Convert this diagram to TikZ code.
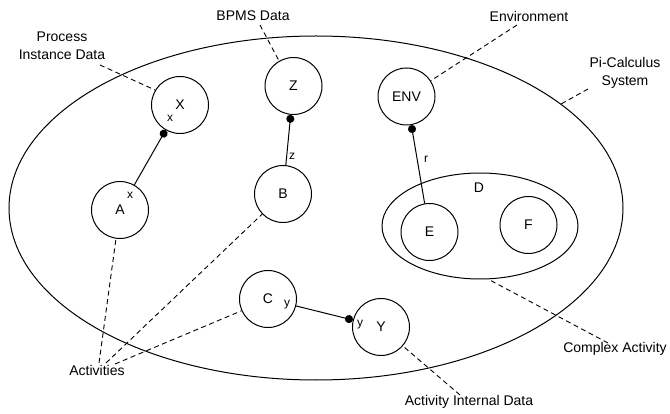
\documentclass[tikz,border=0pt]{standalone}
\usepackage{fontspec}
\setmainfont{Liberation Sans}
\usetikzlibrary{shapes.geometric,arrows.meta}
\begin{document}
\begin{tikzpicture}[x=1pt,y=-1pt,
  every node/.style={font=\fontsize{14}{18}\selectfont},
  proc/.style={draw, circle, line width=1pt, minimum size=57pt, inner sep=0pt},
  region/.style={draw, ellipse, line width=1pt, inner sep=0pt},
  small/.style={font=\fontsize{12}{14}\selectfont, inner sep=0pt},
  note/.style={inner sep=1pt, align=center},
  link/.style={line width=1pt, -{Circle[length=8pt,width=8pt]}},
  hint/.style={line width=0.9pt, dash pattern=on 5pt off 3.5pt},
]
\useasboundingbox (0,0) rectangle (670,414);

% system boundary and the complex activity D
\node[region, minimum width=614pt, minimum height=344pt] (sys) at (316,208) {};
\node[region, minimum width=196pt, minimum height=106pt] (D) at (480,226) {};
\node (Dl) at (479,188) {D};

% processes
\node[proc] (X) at (180,105) {X};
\node[proc] (Z) at (293.5,86) {Z};
\node[proc] (ENV) at (406.5,96.5) {ENV};
\node[proc] (A) at (120,210) {A};
\node[proc] (B) at (283,194) {B};
\node[proc] (E) at (429.5,232) {E};
\node[proc] (F) at (528.5,225) {F};
\node[proc] (C) at (268,299) {C};
\node[proc] (Y) at (381,327) {Y};

% channel names
\node[small] (xX) at (170,118) {x};
\node[small] (xA) at (130,195) {x};
\node[small] (zl) at (292,156) {z};
\node[small] (yC) at (287,305) {y};
\node[small] (yY) at (360,325) {y};
\node[small] (rl) at (426,159) {r};

% channel links
\draw[link] (A) -- (X);
\draw[link] (B) -- (Z);
\draw[link] (E) -- (ENV);
\draw[link] (C) -- (Y);

% annotations
\node[note] (proclbl) at (62,46) {Process\\Instance Data};
\node[note] (bpms) at (253,16) {BPMS Data};
\node[note] (envlbl) at (529,16) {Environment};
\node[note] (pilbl) at (625,73) {Pi-Calculus\\System};
\node[note] (cplx) at (615,349) {Complex Activity};
\node[note] (aid) at (469,402) {Activity Internal Data};
\node[note] (act) at (97,370) {Activities};

\coordinate (pX) at (100,65);
\coordinate (pZ) at (260,25);
\coordinate (pE) at (517,25);
\coordinate (pS) at (588,89);
\coordinate (pD) at (608,343);
\coordinate (pY) at (460,395);
\coordinate (q1) at (99,363);
\coordinate (q2) at (106,363);
\coordinate (q3) at (115,364);

\draw[hint] (pX) -- (X.149);
\draw[hint] (pZ) -- (Z.120);
\draw[hint] (pE) -- (ENV.33);
\draw[hint] (pS) -- (sys.23);
\draw[hint] (pD) -- (D.-81);
\draw[hint] (pY) -- (Y.-41);
\draw[hint] (q1) -- (A.-98);
\draw[hint] (q2) -- (B.-136);
\draw[hint] (q3) -- (C.-156);
\end{tikzpicture}
\end{document}
